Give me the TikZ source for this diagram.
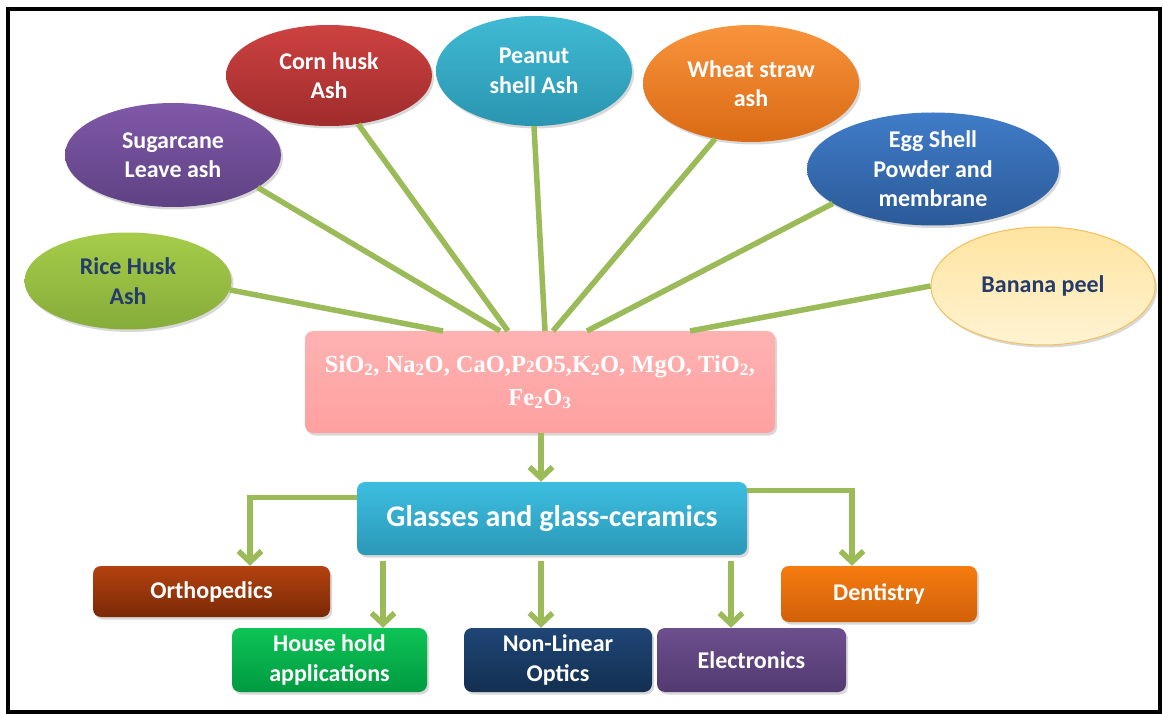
\documentclass[tikz,border=0pt]{standalone}
\usepackage{fontspec}
\setmainfont{Carlito}
\newfontfamily\timesf{Liberation Serif}
\usetikzlibrary{shapes.geometric,arrows.meta,shadows}
\definecolor{lgreen}{HTML}{9BBB59}
\definecolor{navytxt}{HTML}{243B6B}
\begin{document}
\begin{tikzpicture}[x=1pt,y=-1pt,
  shad/.style={drop shadow={opacity=0.3,shadow xshift=2pt,shadow yshift=-2.5pt}},
  blob/.style={ellipse,inner sep=0pt,shad},
  etxt/.style={font=\fontsize{24}{29.5}\selectfont\bfseries,align=center,text=white},
  box/.style={rectangle,rounded corners=8pt,inner sep=0pt,shad,align=center,text=white,
    font=\fontsize{24}{29.5}\selectfont\bfseries},
  spoke/.style={draw=lgreen,line width=5.5pt},
  arr/.style={draw=lgreen,line width=5.5pt,-{Straight Barb[length=11pt,width=23pt]}}]
\useasboundingbox (0,0) rectangle (1163,714);
\fill[white] (0,0) rectangle (1163,714);
\draw[line width=3.5pt] (8,9) rectangle (1160,712);

% source ellipses
\node[blob,minimum width=207,minimum height=97,top color={rgb,255:red,166;green,204;blue,74},bottom color={rgb,255:red,134;green,172;blue,58},
  label={[etxt,text=navytxt]center:Rice Husk\\Ash}] (rice) at (128,281) {};
\node[blob,minimum width=216,minimum height=104,top color={rgb,255:red,128;green,88;blue,168},bottom color={rgb,255:red,94;green,66;blue,131},
  label={[etxt]center:Sugarcane\\Leave ash}] (sugar) at (173,155) {};
\node[blob,minimum width=206,minimum height=101,top color={rgb,255:red,204;green,66;blue,64},bottom color={rgb,255:red,160;green,44;blue,44},
  label={[etxt]center:Corn husk\\Ash}] (corn) at (329,75.5) {};
\node[blob,minimum width=196,minimum height=110,top color={rgb,255:red,64;green,186;blue,212},bottom color={rgb,255:red,42;green,149;blue,176},
  label={[etxt]center:Peanut\\shell Ash}] (peanut) at (534,71) {};
\node[blob,minimum width=216,minimum height=117,top color={rgb,255:red,248;green,148;blue,60},bottom color={rgb,255:red,218;green,106;blue,20},
  label={[etxt]center:Wheat straw\\ash}] (wheat) at (751,83.5) {};
\node[blob,minimum width=252,minimum height=113,top color={rgb,255:red,64;green,124;blue,200},bottom color={rgb,255:red,43;green,90;blue,152},
  label={[etxt]center:Egg Shell\\Powder and\\membrane}] (egg) at (933,169) {};
\node[blob,minimum width=224,minimum height=118,draw={rgb,255:red,245;green,192;blue,90},line width=1pt,
  top color={rgb,255:red,255;green,228;blue,160},bottom color={rgb,255:red,255;green,243;blue,210},
  label={[etxt,text=navytxt]center:Banana peel}] (banana) at (1043,286) {};

% central oxide box
\node[box,minimum width=470,minimum height=102,top color={rgb,255:red,255;green,178;blue,178},bottom color={rgb,255:red,255;green,160;blue,160},
  font=\timesf\fontsize{24.5}{33}\selectfont\bfseries] (ox) at (540,382)
  {SiO\textsubscript{2}, Na\textsubscript{2}O, CaO,P{\fontsize{17}{17}\selectfont 2}O5,K\textsubscript{2}O, MgO, TiO\textsubscript{2},\\Fe\textsubscript{2}O\textsubscript{3}};

\coordinate (e1) at (443,331);
\coordinate (e2) at (500,331);
\coordinate (e3) at (508,331);
\coordinate (e4) at (545,331);
\coordinate (e5) at (553,331);
\coordinate (e6) at (587,331);
\coordinate (e7) at (690,331);

\path[spoke] (rice.355) -- (e1);
\path[spoke] (sugar.339) -- (e2);
\path[spoke] (corn.301) -- (e3);
\path[spoke] (peanut.270) -- (e4);
\path[spoke] (wheat.237) -- (e5);
\path[spoke] (egg.199) -- (e6);
\path[spoke] (banana.180) -- (e7);

% glasses box
\node[box,minimum width=390,minimum height=73,top color={rgb,255:red,60;green,190;blue,224},bottom color={rgb,255:red,44;green,152;blue,184},
  font=\fontsize{30}{34}\selectfont\bfseries] (glass) at (552,518.5) {Glasses and glass-ceramics};

% application boxes
\node[box,minimum width=237,minimum height=51,top color={rgb,255:red,180;green,66;blue,16},bottom color={rgb,255:red,122;green,41;blue,6}] (ortho) at (211.5,591.5) {Orthopedics};
\node[box,minimum width=195,minimum height=64,top color={rgb,255:red,14;green,196;blue,86},bottom color={rgb,255:red,0;green,154;blue,64}] (house) at (329.5,660) {House hold\\applications};
\node[box,minimum width=188,minimum height=64,top color={rgb,255:red,31;green,70;blue,118},bottom color={rgb,255:red,19;green,47;blue,80}] (nlo) at (558,660) {Non-Linear\\Optics};
\node[box,minimum width=189,minimum height=64,top color={rgb,255:red,108;green,79;blue,141},bottom color={rgb,255:red,82;green,58;blue,112}] (elec) at (751.5,660) {Electronics};
\node[box,minimum width=196,minimum height=56,top color={rgb,255:red,246;green,124;blue,16},bottom color={rgb,255:red,208;green,96;blue,8}] (dent) at (879,594) {Dentistry};

% arrows
\path[arr] ([xshift=1pt]ox.south) -- ([xshift=1pt]ox.south |- glass.north);
\path[arr] ([yshift=21pt]glass.west) -| ([xshift=38.5pt]ortho.north);
\path[arr] ([yshift=28pt]glass.east) -| ([xshift=-27pt]dent.north);
\path[arr] ([xshift=53.5pt,yshift=-6pt]house.north |- glass.south) -- ([xshift=53.5pt]house.north);
\path[arr] ([xshift=-17pt,yshift=-6pt]nlo.north |- glass.south) -- ([xshift=-17pt]nlo.north);
\path[arr] ([xshift=-20.5pt,yshift=-6pt]elec.north |- glass.south) -- ([xshift=-20.5pt]elec.north);
\end{tikzpicture}
\end{document}
